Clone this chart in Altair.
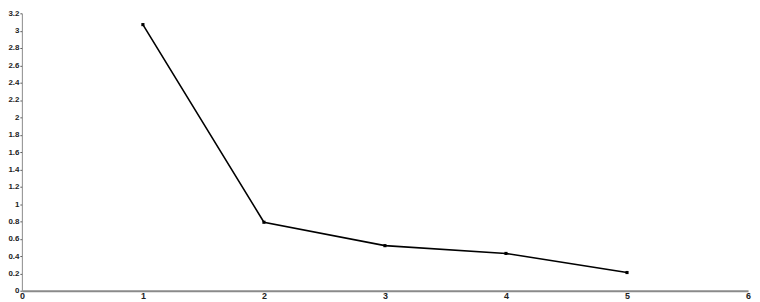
import altair as alt
import pandas as pd

xs = [1, 2, 3, 4, 5]
ys = [3.07, 0.79, 0.52, 0.43, 0.21]

df = pd.DataFrame({"x": xs, "y": ys})

line = alt.Chart(df).mark_line(
    color="#000000", strokeWidth=1.6,
    point=alt.OverlayMarkDef(filled=True, color="#000000", size=10, shape="square"),
).encode(
    x=alt.X("x:Q", scale=alt.Scale(domain=[0, 6], nice=False, zero=True),
            axis=alt.Axis(values=[0, 1, 2, 3, 4, 5, 6], title=None, grid=False,
                          domainColor="#8a8a8a", domainWidth=2, tickSize=0,
                          labelFont="Liberation Sans", labelFontWeight="bold",
                          labelFontSize=9, labelColor="#222222", labelPadding=1,
                          labelFlush=False)),
    y=alt.Y("y:Q", scale=alt.Scale(domain=[0, 3.2], nice=False),
            axis=alt.Axis(values=[round(i * 0.2, 1) for i in range(17)], title=None, grid=False,
                          domainColor="#8a8a8a", domainWidth=1, tickSize=2,
                          tickColor="#555555",
                          labelFont="Liberation Sans", labelFontWeight="bold",
                          labelFontSize=8, labelColor="#222222", labelPadding=1,
                          labelFlush=False,
                          labelExpr="datum.value == 0 ? '0' : format(datum.value, '.1~f')")),
)

chart = line.properties(
    width=733, height=280,
    padding={"left": 14, "top": 4, "right": 4, "bottom": 10},
    autosize=alt.AutoSizeParams(type="none"),
).configure_view(stroke=None)

chart.save("out.html", embed_options={"renderer": "svg", "actions": False})
